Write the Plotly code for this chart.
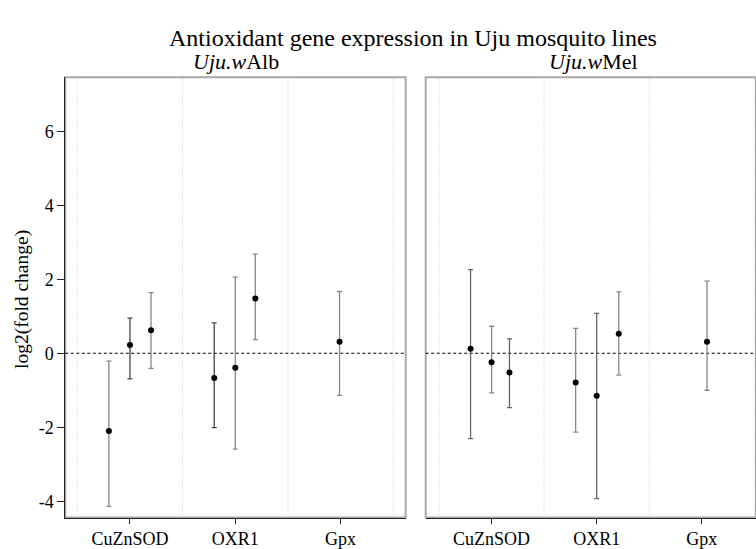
import plotly.graph_objects as go

# ---------------- data ----------------
genes = ["CuZnSOD", "OXR1", "Gpx"]
point_gene = ["CuZnSOD", "CuZnSOD", "CuZnSOD", "OXR1", "OXR1", "OXR1", "Gpx"]

walb_mean = [-2.10, 0.22, 0.62, -0.67, -0.39, 1.48, 0.31]
walb_lower = [-4.14, -0.69, -0.41, -2.01, -2.59, 0.37, -1.14]
walb_upper = [-0.21, 0.95, 1.64, 0.82, 2.06, 2.68, 1.67]

wmel_mean = [0.12, -0.24, -0.52, -0.79, -1.15, 0.53, 0.31]
wmel_lower = [-2.31, -1.07, -1.47, -2.13, -3.93, -0.59, -1.00]
wmel_upper = [2.26, 0.73, 0.39, 0.67, 1.08, 1.66, 1.95]

y_ticks = [-4, -2, 0, 2, 4, 6]
y_ticklabels = ["-4", "-2", "0", "2", "4", "6"]

# ---------------- style / layout ----------------
walb_dodge = [-0.2, 0.0, 0.2, -0.2, 0.0, 0.19, -0.01]
wmel_dodge = [-0.2, 0.0, 0.17, -0.2, 0.0, 0.21, 0.05]
walb_barcol = ["#888888", "#444444", "#888888", "#444444", "#888888", "#888888", "#888888"]
wmel_barcol = ["#666666", "#888888", "#666666", "#888888", "#666666", "#888888", "#888888"]

FONT = "Liberation Serif, Times New Roman, serif"
W, H = 756, 549
TICK_SIZE = 18

def px_x(p):
    return p / W

def px_y(p):
    return 1 - p / H

fig = go.Figure()

panels = [
    ("x", "y", walb_mean, walb_lower, walb_upper, walb_dodge, walb_barcol),
    ("x2", "y2", wmel_mean, wmel_lower, wmel_upper, wmel_dodge, wmel_barcol),
]

for xa, ya, mean, lo, up, dodge, cols in panels:
    for i in range(len(mean)):
        xpos = genes.index(point_gene[i]) + 1 + dodge[i]
        fig.add_trace(go.Scatter(
            x=[xpos], y=[mean[i]], xaxis=xa, yaxis=ya,
            mode="markers",
            marker=dict(color="black", size=6),
            error_y=dict(type="data", symmetric=False,
                         array=[up[i] - mean[i]], arrayminus=[mean[i] - lo[i]],
                         color=cols[i], thickness=1.3, width=2.5),
            showlegend=False, hoverinfo="skip",
        ))

ymin, ymax = -4.44, 7.46
common_y = dict(range=[ymin, ymax], zeroline=False, showgrid=False,
                domain=[px_y(517.5), px_y(77.3)])

fig.update_layout(
    width=W, height=H,
    margin=dict(l=0, r=0, t=0, b=0),
    paper_bgcolor="white", plot_bgcolor="white",
    font=dict(family=FONT, color="black", size=TICK_SIZE),
    xaxis=dict(domain=[px_x(65.3), px_x(405.7)], range=[0.386, 3.618],
               tickvals=[1, 2, 3], ticktext=genes, ticks="outside", ticklen=5,
               tickcolor="#222", showline=True, linecolor="#222", linewidth=1,
               showgrid=False, zeroline=False, anchor="y",
               tickfont=dict(family=FONT, size=TICK_SIZE, color="black")),
    xaxis2=dict(domain=[px_x(425.7), 1.0], range=[0.373, 3.516],
                tickvals=[1, 2, 3], ticktext=genes, ticks="outside", ticklen=5,
                tickcolor="#222", showline=True, linecolor="#222", linewidth=1,
                showgrid=False, zeroline=False, anchor="y2",
                tickfont=dict(family=FONT, size=TICK_SIZE, color="black")),
    yaxis=dict(**common_y, tickvals=y_ticks, ticktext=y_ticklabels,
               ticks="outside", ticklen=7,
               tickcolor="#222", showline=True, linecolor="#222", linewidth=1,
               anchor="x", tickfont=dict(family=FONT, size=TICK_SIZE, color="black")),
    yaxis2=dict(**common_y, showticklabels=False, ticks="", showline=False,
                anchor="x2"),
)

shapes = []
for xa, ya in [("x", "y"), ("x2", "y2")]:
    # grey frame
    shapes.append(dict(type="rect", xref=f"{xa} domain", yref=f"{ya} domain",
                       x0=0, x1=1, y0=0, y1=1,
                       line=dict(color="#a8a8a8", width=2), layer="below"))
    # dotted category separators
    for k in range(len(genes) + 1):
        shapes.append(dict(type="line", xref=xa, yref=f"{ya} domain",
                           x0=k + 0.5, x1=k + 0.5, y0=0, y1=1,
                           line=dict(color="#c4c4c4", width=1, dash="1px,2px"),
                           layer="below"))
    # dashed zero line
    shapes.append(dict(type="line", xref=f"{xa} domain", yref=ya,
                       x0=0, x1=1, y0=0, y1=0,
                       line=dict(color="black", width=1, dash="3px,2.5px"),
                       layer="below"))
fig.update_layout(shapes=shapes)

annotations = [
    dict(text="Antioxidant gene expression in Uju mosquito lines",
         x=px_x(413), y=px_y(38), xref="paper", yref="paper",
         showarrow=False, font=dict(family=FONT, size=24),
         xanchor="center", yanchor="middle"),
    dict(text="<i>Uju.w</i>Alb", x=px_x(235.5), y=px_y(62),
         xref="paper", yref="paper", showarrow=False,
         font=dict(family=FONT, size=22), xanchor="center", yanchor="middle"),
    dict(text="<i>Uju.w</i>Mel", x=px_x(593), y=px_y(62),
         xref="paper", yref="paper", showarrow=False,
         font=dict(family=FONT, size=22), xanchor="center", yanchor="middle"),
    dict(text="log2(fold change)", x=px_x(22), y=px_y(300),
         xref="paper", yref="paper", showarrow=False, textangle=-90,
         font=dict(family=FONT, size=19.5), xanchor="center", yanchor="middle"),
]
fig.update_layout(annotations=annotations)

fig.write_html("out.html")
